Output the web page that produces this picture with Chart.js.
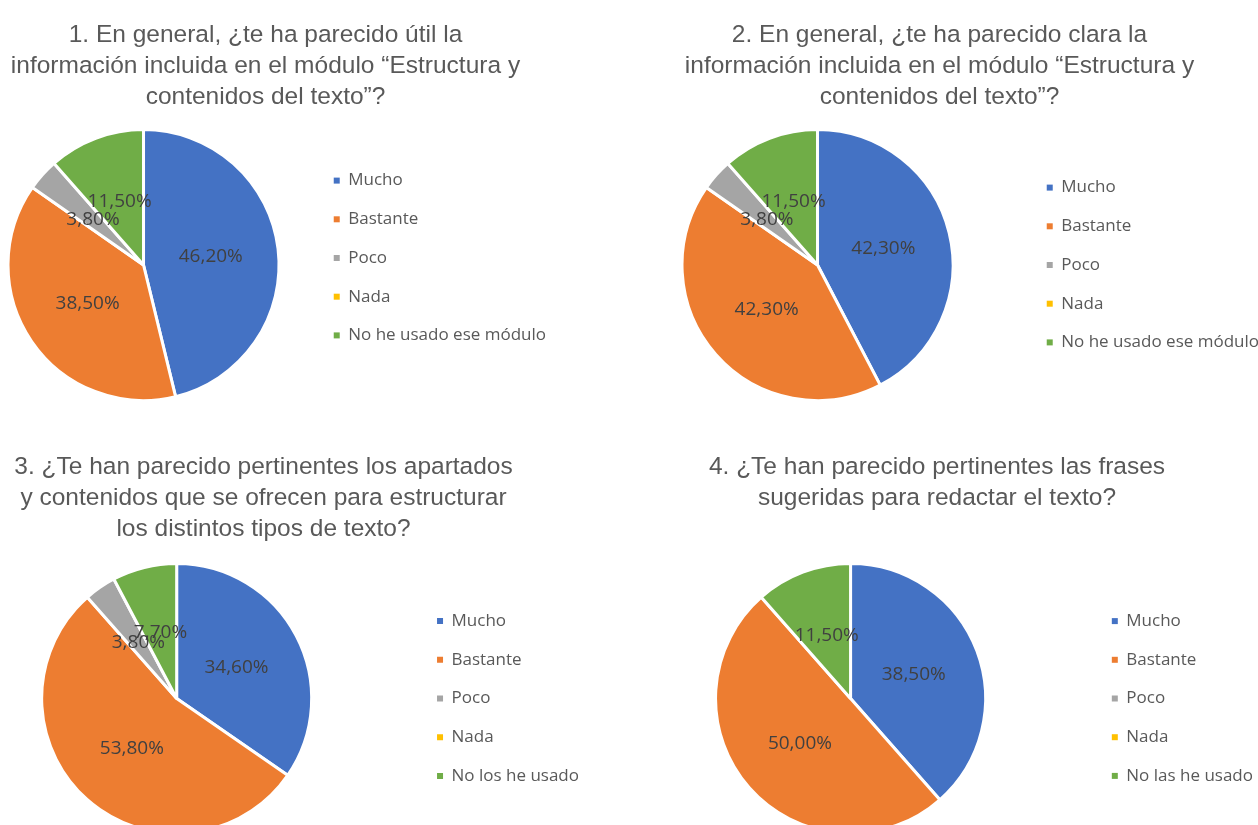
<!DOCTYPE html>
<html lang="es">
  <head>
    <meta charset="UTF-8" />
    <title>Valoración del módulo "Estructura y contenidos del texto"</title>
    <script src="https://cdn.jsdelivr.net/npm/chart.js"></script>
    <style>
      html,
      body {
        margin: 0;
        padding: 0;
        background: #fff;
        overflow: hidden;
      }
      body {
        position: relative;
        width: 1258px;
        height: 825px;
      }
      canvas {
        position: absolute;
      }
    </style>
  </head>
  <body>
    <canvas id="chart1"></canvas>
    <canvas id="chart2"></canvas>
    <canvas id="chart3"></canvas>
    <canvas id="chart4"></canvas>

    <script>
      // answer categories
      const answers12 = ['Mucho', 'Bastante', 'Poco', 'Nada', 'No he usado ese módulo'];
      const answers3 = ['Mucho', 'Bastante', 'Poco', 'Nada', 'No los he usado'];
      const answers4 = ['Mucho', 'Bastante', 'Poco', 'Nada', 'No las he usado'];

      // percentages per question
      const q1Values = [46.2, 38.5, 3.8, 0, 11.5];
      const q2Values = [42.3, 42.3, 3.8, 0, 11.5];
      const q3Values = [34.6, 53.8, 3.8, 0, 7.7];
      const q4Values = [38.5, 50.0, 0, 0, 11.5];

      const q1Title = [
        '1. En general, ¿te ha parecido útil la',
        'información incluida en el módulo “Estructura y',
        'contenidos del texto”?',
      ];
      const q2Title = [
        '2. En general, ¿te ha parecido clara la',
        'información incluida en el módulo “Estructura y',
        'contenidos del texto”?',
      ];
      const q3Title = [
        '3. ¿Te han parecido pertinentes los apartados',
        'y contenidos que se ofrecen para estructurar',
        'los distintos tipos de texto?',
      ];
      const q4Title = [
        '4. ¿Te han parecido pertinentes las frases',
        'sugeridas para redactar el texto?',
      ];

      const sliceColors = ['#4472C4', '#ED7D31', '#A5A5A5', '#FFC000', '#70AD47'];

      const LEGEND_FONT = 17;
      const LEGEND_PAD = 21.7;
      const LEGEND_BOX = 6;
      const TITLE_SIZE = 24.5;
      const TITLE_LINE = 31;
      const TITLE_H = 128;

      function formatPct(v) {
        return v.toFixed(2).replace('.', ',') + '%';
      }

      function textWidth(str, font) {
        const ctx = document.createElement('canvas').getContext('2d');
        ctx.font = font;
        return ctx.measureText(str).width;
      }

      // percentage labels inside the slices
      const sliceLabels = {
        id: 'sliceLabels',
        afterDatasetsDraw(chart) {
          const ctx = chart.ctx;
          const values = chart.data.datasets[0].data;
          ctx.save();
          ctx.font = '19px "Open Sans"';
          ctx.fillStyle = '#404040';
          ctx.textAlign = 'center';
          ctx.textBaseline = 'middle';
          chart.getDatasetMeta(0).data.forEach((arc, i) => {
            if (!values[i]) return;
            const p = arc.getProps(['x', 'y', 'startAngle', 'endAngle', 'outerRadius'], true);
            const mid = (p.startAngle + p.endAngle) / 2;
            const r = p.outerRadius * 0.5;
            ctx.fillText(formatPct(values[i]), p.x + Math.cos(mid) * r, p.y + Math.sin(mid) * r);
          });
          ctx.restore();
        },
      };

      // nudge the legend block up or down
      const legendShift = {
        id: 'legendShift',
        afterLayout(chart, args, opts) {
          if (opts.dy && chart.legend) {
            chart.legend.top += opts.dy;
            chart.legend.bottom += opts.dy;
          }
        },
      };

      function buildPie(id, spec) {
        const canvas = document.getElementById(id);
        const font = `${LEGEND_FONT}px "Open Sans"`;
        const maxText = Math.max(...spec.labels.map((l) => textWidth(l, font)));
        const legendW = LEGEND_PAD + LEGEND_BOX + LEGEND_FONT / 2 + maxText + 10;
        const legendLeft = spec.markerX - LEGEND_PAD;
        const left = Math.round(2 * spec.cx - legendLeft);
        const width = Math.ceil(legendLeft + legendW - left);

        const areaH = 2 * (spec.r + 1.5) + 3;
        const top = Math.round(spec.cy - areaH / 2 - TITLE_H);
        const height = Math.round(TITLE_H + areaH);
        const padBottom = TITLE_H - spec.titleTop - spec.title.length * TITLE_LINE;

        canvas.width = width;
        canvas.height = height;
        canvas.style.left = left + 'px';
        canvas.style.top = top + 'px';

        return new Chart(canvas, {
          type: 'pie',
          data: {
            labels: spec.labels,
            datasets: [
              {
                data: spec.values,
                backgroundColor: sliceColors,
                borderColor: '#ffffff',
                borderWidth: 3,
                hoverBorderWidth: 3,
                hoverOffset: 0,
              },
            ],
          },
          options: {
            responsive: false,
            animation: false,
            events: [],
            plugins: {
              title: {
                display: true,
                text: spec.title,
                color: '#595959',
                font: {
                  family: '"Liberation Sans", Arial, sans-serif',
                  size: TITLE_SIZE,
                  weight: 'normal',
                  lineHeight: TITLE_LINE / TITLE_SIZE,
                },
                padding: { top: spec.titleTop, bottom: padBottom },
              },
              legend: {
                position: 'right',
                align: 'center',
                fullSize: false,
                labels: {
                  color: '#595959',
                  font: { family: '"Open Sans"', size: LEGEND_FONT },
                  boxWidth: LEGEND_BOX,
                  boxHeight: LEGEND_BOX,
                  padding: LEGEND_PAD,
                  generateLabels: (chart) =>
                    Chart.overrides.doughnut.plugins.legend.labels
                      .generateLabels(chart)
                      .map((item) => ({ ...item, lineWidth: 0 })),
                },
              },
              tooltip: { enabled: false },
              legendShift: { dy: spec.legendDy || 0 },
            },
          },
          plugins: [sliceLabels, legendShift],
        });
      }

      buildPie('chart1', {
        labels: answers12,
        values: q1Values,
        title: q1Title,
        titleTop: 19.5,
        cx: 143,
        cy: 265,
        r: 134,
        markerX: 333,
        legendDy: -7,
      });
      buildPie('chart2', {
        labels: answers12,
        values: q2Values,
        title: q2Title,
        titleTop: 19.5,
        cx: 817,
        cy: 265,
        r: 134,
        markerX: 1046,
      });
      buildPie('chart3', {
        labels: answers3,
        values: q3Values,
        title: q3Title,
        titleTop: 17.5,
        cx: 176.5,
        cy: 698.5,
        r: 133.5,
        markerX: 437,
      });
      buildPie('chart4', {
        labels: answers4,
        values: q4Values,
        title: q4Title,
        titleTop: 17.5,
        cx: 850,
        cy: 698.5,
        r: 133.5,
        markerX: 1111,
      });
    </script>
  </body>
</html>
